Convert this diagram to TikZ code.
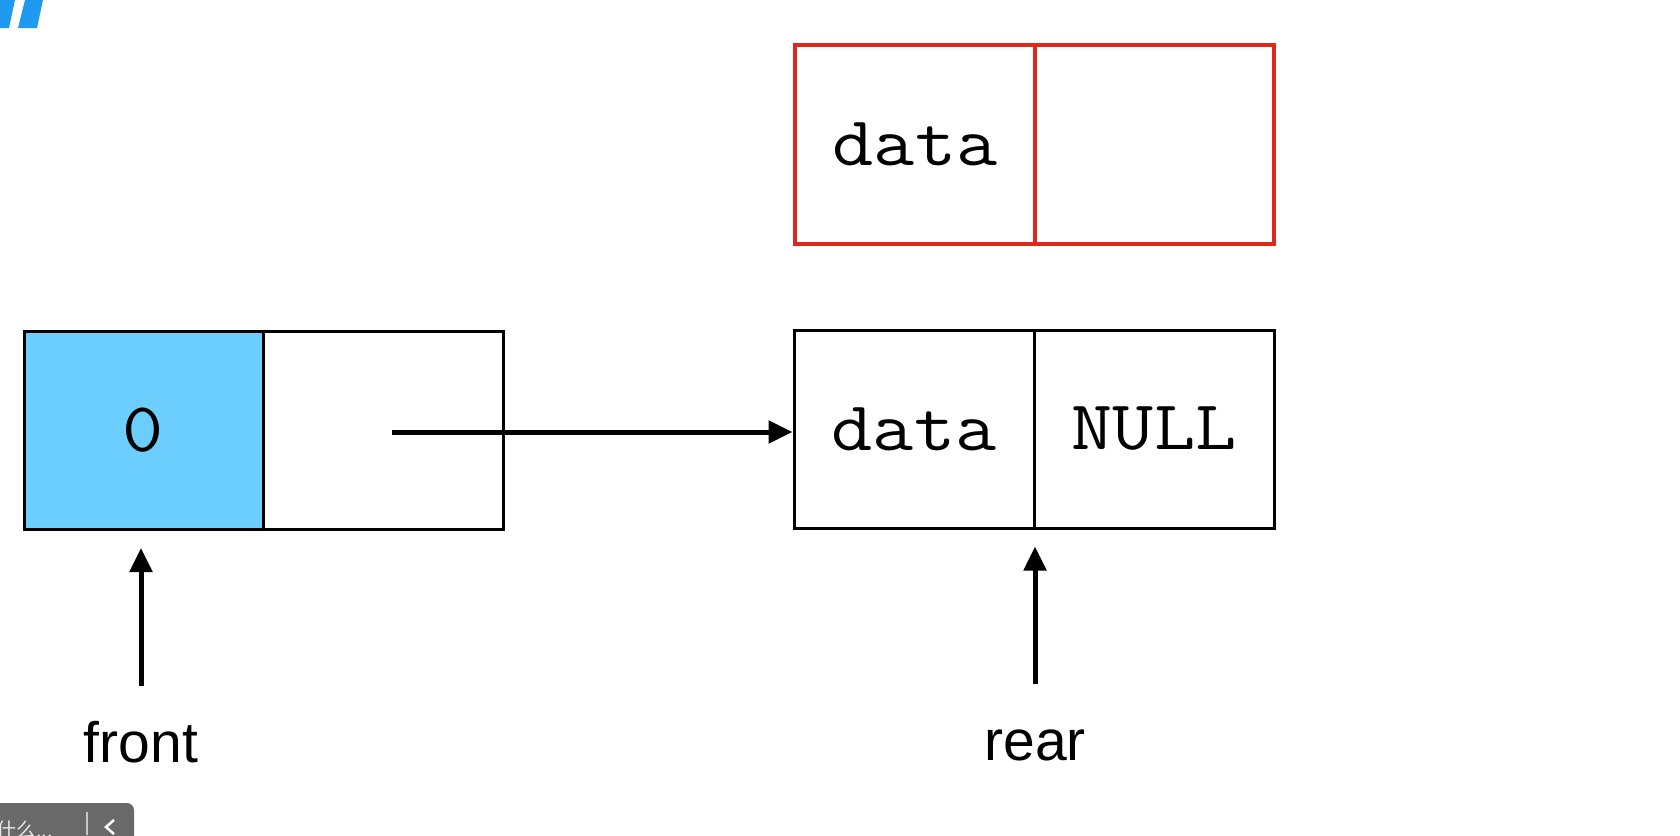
\documentclass[tikz,border=0pt]{standalone}
\usepackage{fontspec}
\setmainfont{Liberation Sans}
\setmonofont{Latin Modern Mono}[FakeStretch=1.14]
\newfontfamily\cjk{Noto Sans CJK SC}
\usetikzlibrary{arrows.meta,calc}
\definecolor{cellblue}{HTML}{6CCEFF}
\definecolor{nodered}{HTML}{E0271B}
\definecolor{stripeblue}{HTML}{1E9BF0}
\definecolor{bargray}{HTML}{696969}
\definecolor{bartext}{HTML}{E6E6E6}
\begin{document}
\begin{tikzpicture}[x=1pt,y=-1pt,
  cell/.style={draw=black,line width=3pt,minimum width=240pt,minimum height=198pt,
    inner sep=0pt,font=\fontsize{70}{70}\selectfont\ttfamily},
  redcell/.style={cell,draw=nodered,line width=4pt,minimum height=199pt},
  ptr/.style={line width=5pt,-{Triangle[length=24pt,width=22pt]}},
  lbl/.style={font=\fontsize{57}{57}\selectfont,inner sep=0pt,anchor=base}]
\useasboundingbox (0,0) rectangle (1680,835);
\fill[white] (0,0) rectangle (1680,835);
\begin{scope}
\clip (0,0) rectangle (1680,835);
% top-left stripes
\fill[stripeblue] (0,0) -- (15,0) -- (9,28) -- (0,28) -- cycle;
\fill[stripeblue] (25,0) -- (43,0) -- (37,28) -- (18,28) -- cycle;
% bottom-left toolbar
\fill[bargray,rounded corners=7pt] (-10,803) rectangle (134,860);
\draw[gray!45,line width=1.2pt] (87,812) -- (87,835);
\draw[white,line width=2.5pt] (114,820) -- (106,827) -- (114,834);
\node[font=\cjk\fontsize{20}{20}\selectfont,text=bartext,anchor=base west,inner sep=0pt] (bartxt) at (-4,837) {什么...};
\end{scope}
% front node
\node[cell,fill=cellblue,minimum width=239pt] (f0) at (143.5,430.5) {0};
\node[cell] (f1) at (383,430.5) {};
% new red node
\node[redcell] (r0) at (915,144.5) {data};
\node[redcell,minimum width=239pt] (r1) at (1154.5,144.5) {};
% rear node
\node[cell] (d0) at (914,429) {data};
\node[cell] (d1) at (1154,429) {NULL};
% pointers
\coordinate (mstart) at (392,432);
\draw[ptr] (mstart) -- (d0.west |- mstart);
\node[lbl] (front) at (141,762) {front};
\node[lbl] (rear) at (1035,760) {rear};
\coordinate (ftail) at (141,686);
\coordinate (rtail) at (1035,684);
\draw[ptr,shorten >=17pt] (ftail) -- (ftail |- f0.south);
\draw[ptr,shorten >=17pt] (rtail) -- (rtail |- d0.south);
\end{tikzpicture}
\end{document}
